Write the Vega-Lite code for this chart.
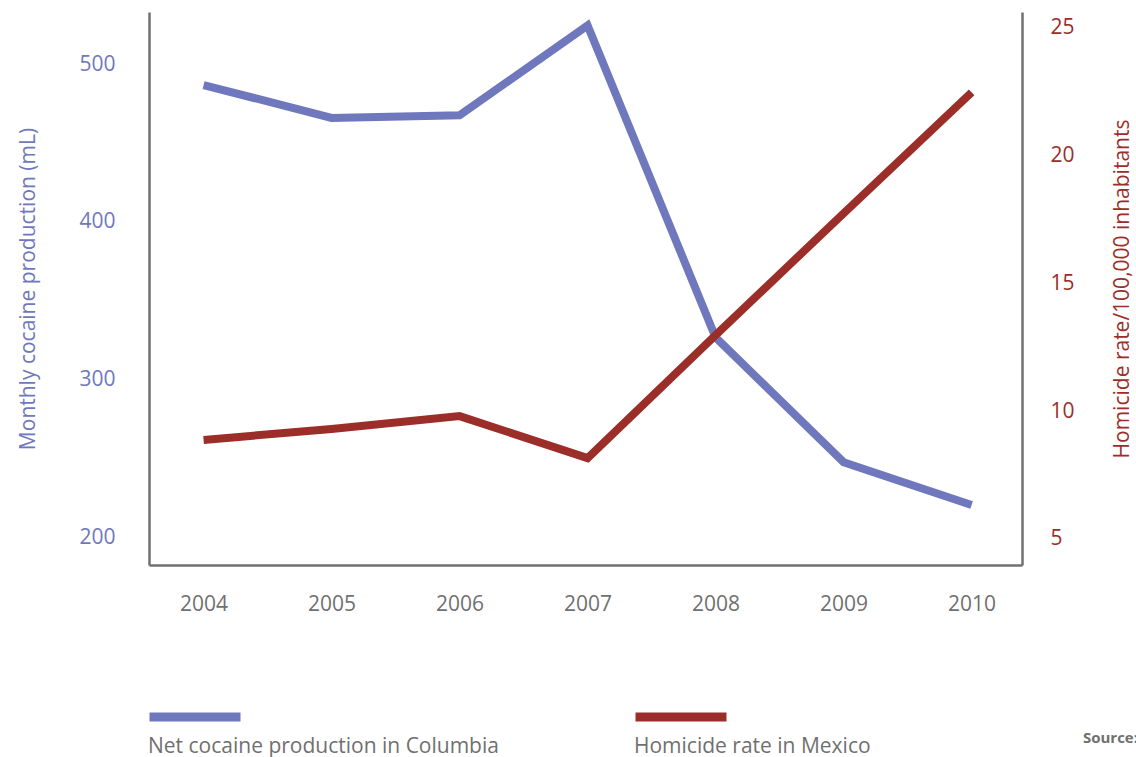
{
  "$schema": "https://vega.github.io/schema/vega-lite/v6.json",
  "width": 873,
  "height": 553,
  "autosize": {"type": "none"},
  "padding": {"left": 149, "top": 12, "right": 114, "bottom": 192},
  "background": "white",
  "config": {
    "view": {"stroke": null},
    "font": "Open Sans",
    "axis": {
      "grid": false,
      "ticks": false,
      "domainColor": "#707070",
      "domainWidth": 2.5,
      "labelFontSize": 21,
      "titleFontSize": 21,
      "titleFontWeight": "normal",
      "labelFont": "Open Sans",
      "titleFont": "Open Sans"
    }
  },
  "title": {
    "text": "Source:",
    "orient": "bottom",
    "anchor": "end",
    "fontSize": 15,
    "fontWeight": "bold",
    "color": "#707070",
    "font": "Open Sans",
    "offset": -60,
    "dx": 6,
    "dy": 34
  },
  "data": {
    "values": [
      {"year": "2004", "series": "Net cocaine production in Columbia", "value": 486.7},
      {"year": "2005", "series": "Net cocaine production in Columbia", "value": 465.8},
      {"year": "2006", "series": "Net cocaine production in Columbia", "value": 467.5},
      {"year": "2007", "series": "Net cocaine production in Columbia", "value": 524.5},
      {"year": "2008", "series": "Net cocaine production in Columbia", "value": 326.6},
      {"year": "2009", "series": "Net cocaine production in Columbia", "value": 247.5},
      {"year": "2010", "series": "Net cocaine production in Columbia", "value": 220.3},
      {"year": "2004", "series": "Homicide rate in Mexico", "value": 8.87},
      {"year": "2005", "series": "Homicide rate in Mexico", "value": 9.3},
      {"year": "2006", "series": "Homicide rate in Mexico", "value": 9.8},
      {"year": "2007", "series": "Homicide rate in Mexico", "value": 8.16},
      {"year": "2008", "series": "Homicide rate in Mexico", "value": 12.97},
      {"year": "2009", "series": "Homicide rate in Mexico", "value": 17.73},
      {"year": "2010", "series": "Homicide rate in Mexico", "value": 22.46}
    ]
  },
  "encoding": {
    "x": {
      "field": "year",
      "type": "ordinal",
      "scale": {"type": "point", "padding": 0.41, "align": 0.52},
      "axis": {"labelAngle": 0, "labelColor": "#707070", "labelPadding": 28, "title": null}
    },
    "color": {
      "field": "series",
      "type": "nominal",
      "scale": {
        "domain": ["Net cocaine production in Columbia", "Homicide rate in Mexico"],
        "range": ["#6f78bc", "#9c2e2a"]
      },
      "legend": {
        "orient": "none",
        "legendX": -4,
        "legendY": 655,
        "direction": "horizontal",
        "title": null,
        "padding": 0,
        "symbolType": "stroke",
        "symbolSize": 8281,
        "symbolStrokeWidth": 9,
        "labelOffset": -97,
        "labelFontSize": 21,
        "labelFont": "Open Sans",
        "labelColor": "#707070",
        "labelLimit": 500,
        "columnPadding": 118,
        "encode": {"labels": {"update": {"dy": {"value": 30}}}}
      }
    }
  },
  "layer": [
    {
      "transform": [{"filter": "datum.series === 'Net cocaine production in Columbia'"}],
      "mark": {"type": "line", "strokeWidth": 8, "strokeJoin": "miter", "strokeCap": "butt"},
      "encoding": {
        "y": {
          "field": "value",
          "type": "quantitative",
          "scale": {"domain": [182.3, 533], "nice": false, "zero": false},
          "axis": {
            "orient": "left",
            "values": [200, 300, 400, 500],
            "title": "Monthly cocaine production (mL)",
            "labelColor": "#6f78bc",
            "titleColor": "#6f78bc",
            "labelPadding": 34,
            "titlePadding": 40
          }
        }
      }
    },
    {
      "transform": [{"filter": "datum.series === 'Homicide rate in Mexico'"}],
      "mark": {"type": "line", "strokeWidth": 8, "strokeJoin": "miter", "strokeCap": "butt"},
      "encoding": {
        "y": {
          "field": "value",
          "type": "quantitative",
          "scale": {"domain": [3.98, 25.6], "nice": false, "zero": false},
          "axis": {
            "orient": "right",
            "values": [5, 10, 15, 20, 25],
            "title": "Homicide rate/100,000 inhabitants",
            "labelColor": "#9c2e2a",
            "titleColor": "#9c2e2a",
            "labelPadding": 28,
            "titleAngle": -90,
            "titleBaseline": "top",
            "titlePadding": 37
          }
        }
      }
    }
  ],
  "resolve": {"scale": {"y": "independent"}}
}
